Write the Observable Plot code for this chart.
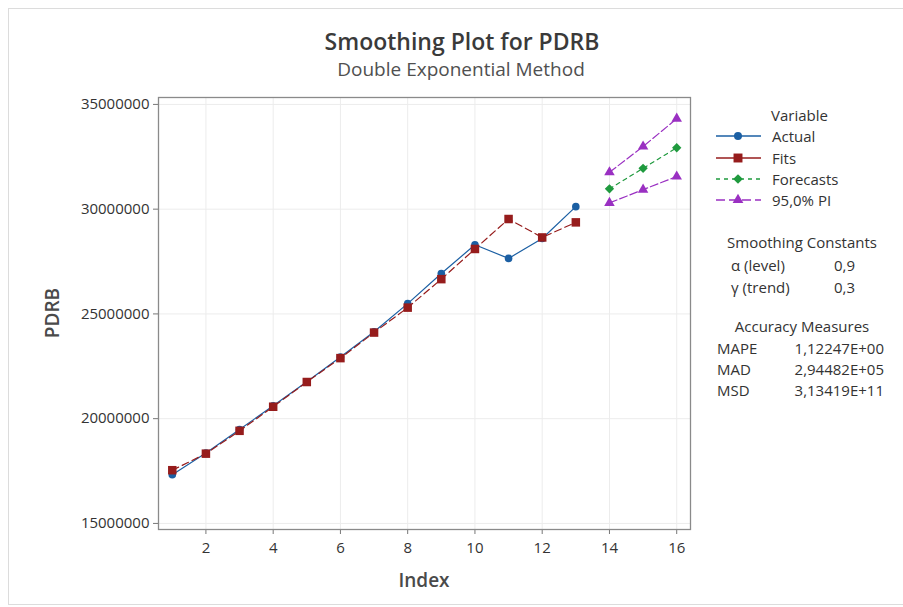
<!DOCTYPE html>
<html><head><meta charset="utf-8">
<script src="https://cdn.jsdelivr.net/npm/d3@7"></script>
<script src="https://cdn.jsdelivr.net/npm/@observablehq/plot@0.6"></script>
<style>
body{margin:0;background:#fff;font-family:"Open Sans",sans-serif;}
#wrap{position:relative;width:903px;height:607px;overflow:hidden;background:#fff;}
#wrap svg.plot{position:absolute;left:0;top:0;}
.t{position:absolute;white-space:nowrap;color:#333;line-height:1;}
.frame{position:absolute;left:8px;top:8px;width:920px;height:595px;border:1px solid #dcdcdc;}
</style></head><body><div id="wrap"><div class="frame"></div></div>
<script>
// ---- data ----
const index = [1,2,3,4,5,6,7,8,9,10,11,12,13];
const actual = [17320000,18360000,19480000,20620000,21760000,22940000,24150000,25490000,26930000,28300000,27650000,28600000,30120000];
const fits   = [17540000,18330000,19420000,20570000,21750000,22890000,24110000,25300000,26660000,28100000,29530000,28650000,29370000];
const forecastIndex = [14,15,16];
const forecasts = [30970000,31950000,32930000];
const upperPI   = [31760000,32990000,34320000];
const lowerPI   = [30300000,30930000,31560000];
const xTicks = [2,4,6,8,10,12,14,16];
const yTicks = [15000000,20000000,25000000,30000000,35000000];
const seriesNames = ["Actual","Fits","Forecasts","95,0% PI"];
const constantLabels = ["α (level)","γ (trend)"];
const constantValues = ["0,9","0,3"];
const accuracyLabels = ["MAPE","MAD","MSD"];
const accuracyValues = ["1,12247E+00","2,94482E+05","3,13419E+11"];

const C = {actual:"#1b5fa3", fits:"#961c1c", fc:"#1f9a3e", pi:"#9a30c2"};

const tbl = (xs, ys) => xs.map((x,i)=>({x, y: ys[i]}));
const A = tbl(index, actual), F = tbl(index, fits);
const FC = tbl(forecastIndex, forecasts), U = tbl(forecastIndex, upperPI), L = tbl(forecastIndex, lowerPI);

const plot = Plot.plot({
  width: 903, height: 607,
  marginLeft: 158, marginRight: 213, marginTop: 97, marginBottom: 78,
  style: {fontFamily: '"Open Sans", sans-serif', fontSize: "15px", color: "#333", background: "transparent"},
  x: {domain: [0.59, 16.41]},
  y: {domain: [14710000, 35330000]},
  marks: [
    Plot.gridX(xTicks, {stroke: "#ececec", strokeOpacity: 1}),
    Plot.gridY(yTicks, {stroke: "#ececec", strokeOpacity: 1}),
    Plot.axisX(xTicks, {tickSize: 5, tickPadding: 8, stroke: "#777", fill: "#333", fontSize: 15, label: null}),
    Plot.axisY(yTicks, {tickSize: 5, tickPadding: 4, stroke: "#777", fill: "#333", fontSize: 15, label: null, tickFormat: d3.format("d")}),
    Plot.frame({stroke: "#8a8a8a", strokeWidth: 1.3}),
    Plot.line(A, {x: "x", y: "y", stroke: C.actual, strokeWidth: 1.2}),
    Plot.line(F, {x: "x", y: "y", stroke: C.fits, strokeWidth: 1.2, strokeDasharray: "7,4"}),
    Plot.line(FC, {x: "x", y: "y", stroke: C.fc, strokeWidth: 1.2, strokeDasharray: "4,4"}),
    Plot.line(U, {x: "x", y: "y", stroke: C.pi, strokeWidth: 1.2, strokeDasharray: "8,3"}),
    Plot.line(L, {x: "x", y: "y", stroke: C.pi, strokeWidth: 1.2, strokeDasharray: "8,3"}),
    Plot.dot(A, {x: "x", y: "y", symbol: "circle", r: 3.8, fill: C.actual, stroke: "none"}),
    Plot.dot(F, {x: "x", y: "y", symbol: "square", r: 4.8, fill: C.fits, stroke: "none"}),
    Plot.dot(FC, {x: "x", y: "y", symbol: "diamond2", r: 4.2, fill: C.fc, stroke: "none"}),
    Plot.dot(U, {x: "x", y: "y", symbol: "triangle", r: 3.9, fill: C.pi, stroke: "none"}),
    Plot.dot(L, {x: "x", y: "y", symbol: "triangle", r: 3.9, fill: C.pi, stroke: "none"})
  ]
});
plot.classList.add("plot");
const wrap = document.getElementById("wrap");
wrap.appendChild(plot);

function addText(txt, x, y, opts={}) {
  const d = document.createElement("div");
  d.className = "t";
  d.textContent = txt;
  d.style.left = x + "px"; d.style.top = y + "px";
  d.style.fontSize = (opts.size || 15) + "px";
  if (opts.weight) d.style.fontWeight = opts.weight;
  if (opts.color) d.style.color = opts.color;
  let tr = "translate(0,-50%)";
  if (opts.anchor === "middle") tr = "translate(-50%,-50%)";
  if (opts.anchor === "end") tr = "translate(-100%,-50%)";
  if (opts.rotate) tr += " rotate(-90deg)";
  d.style.transform = tr;
  wrap.appendChild(d);
  return d;
}

addText("Smoothing Plot for PDRB", 462, 41, {size: 23, weight: 600, anchor: "middle", color: "#3a3a3a"});
addText("Double Exponential Method", 461, 69, {size: 19, anchor: "middle", color: "#505050"});
addText("Index", 424, 580, {size: 19, weight: 600, anchor: "middle", color: "#4a4a4a"});
addText("PDRB", 52, 313, {size: 19, weight: 600, anchor: "middle", rotate: true, color: "#4a4a4a"});

// legend
addText("Variable", 771, 115);
const legY = [136, 158, 179, 200];
const legStyle = [
  {c: C.actual, dash: null, sym: d3.symbolCircle, size: 50},
  {c: C.fits, dash: null, sym: d3.symbolSquare, size: 80},
  {c: C.fc, dash: "4,4", sym: d3.symbolDiamond2, size: 60},
  {c: C.pi, dash: "9,4", sym: d3.symbolTriangle, size: 50}
];
const legSvg = d3.create("svg").attr("width", 60).attr("height", 100)
  .style("position", "absolute").style("left", "710px").style("top", "120px");
seriesNames.forEach((name, i) => {
  const y = legY[i] - 120;
  legSvg.append("line").attr("x1", 6).attr("x2", 51).attr("y1", y).attr("y2", y)
    .attr("stroke", legStyle[i].c).attr("stroke-width", 1.3)
    .attr("stroke-dasharray", legStyle[i].dash);
  legSvg.append("path").attr("d", d3.symbol(legStyle[i].sym, legStyle[i].size)())
    .attr("transform", `translate(28,${y})`).attr("fill", legStyle[i].c);
  addText(name, 772, legY[i]);
});
wrap.appendChild(legSvg.node());

addText("Smoothing Constants", 802, 242, {anchor: "middle"});
constantLabels.forEach((l, i) => {
  addText(l, 731, 265 + i*22);
  addText(constantValues[i], 834, 265 + i*22);
});
addText("Accuracy Measures", 802, 326, {anchor: "middle"});
accuracyLabels.forEach((l, i) => {
  addText(l, 717, 348 + i*21);
  addText(accuracyValues[i], 884, 348 + i*21, {anchor: "end"});
});
</script>
</body></html>
